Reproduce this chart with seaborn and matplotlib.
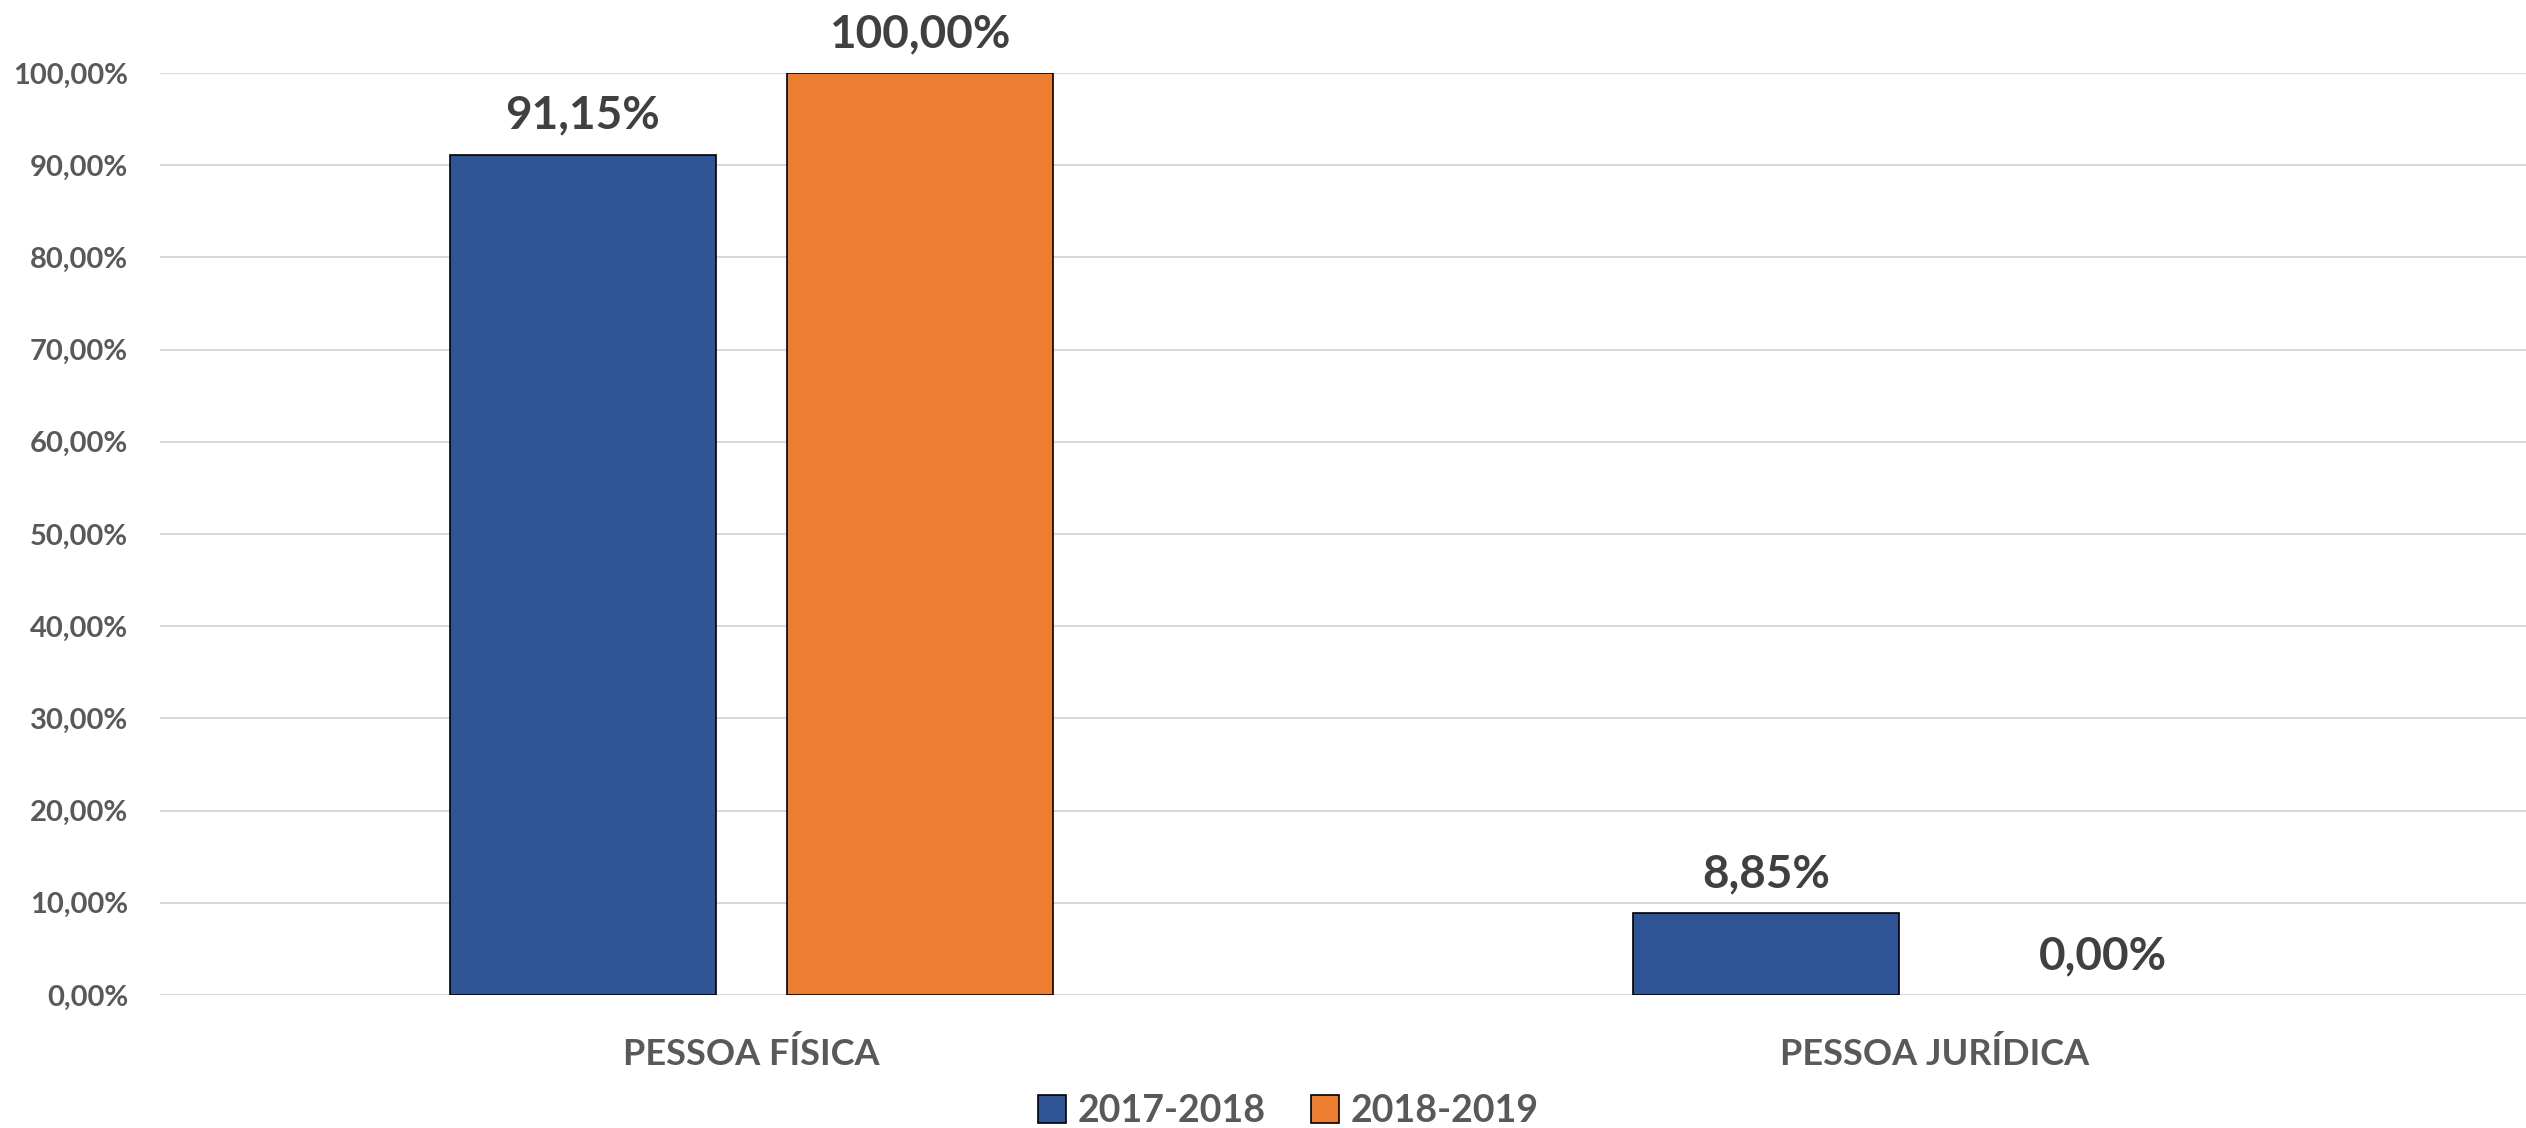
import matplotlib
matplotlib.use("Agg")
import matplotlib.pyplot as plt
import seaborn as sns
import pandas as pd
from matplotlib.ticker import FuncFormatter, MultipleLocator
from matplotlib.patches import Patch

categories = ["PESSOA FÍSICA", "PESSOA JURÍDICA"]
series_names = ["2017-2018", "2018-2019"]
values_2017_2018 = [91.15, 8.85]
values_2018_2019 = [100.00, 0.00]
colors = ["#2F5597", "#ED7D31"]

rows = []
for c, v in zip(categories, values_2017_2018):
    rows.append({"cat": c, "serie": series_names[0], "val": v})
for c, v in zip(categories, values_2018_2019):
    rows.append({"cat": c, "serie": series_names[1], "val": v})
df = pd.DataFrame(rows)

sns.set_theme(style="white")
plt.rcParams['font.family'] = ['Lato', 'DejaVu Sans']

fig = plt.figure(figsize=(25.26, 11.28), dpi=100)
ax = fig.add_axes([160/2526, 1-995/1128, 1-160/2526, (995-73)/1128])

sns.barplot(data=df, x="cat", y="val", hue="serie", palette=colors, ax=ax,
            width=0.57, gap=0.21, edgecolor="black", linewidth=1.2,
            saturation=1, legend=False)

ax.set_ylim(0, 100)
ax.set_xlim(-0.5, 1.5)
ax.yaxis.set_major_locator(MultipleLocator(10))
ax.yaxis.set_major_formatter(FuncFormatter(lambda v, p: f"{v:.2f}%".replace(".", ",")))
ax.grid(axis="y", color="#D9D9D9", linewidth=1.5)
ax.set_axisbelow(True)
for s in ax.spines.values():
    s.set_visible(False)
ax.set_xlabel("")
ax.set_ylabel("")
ax.tick_params(axis="y", length=0, pad=23, labelsize=21, labelcolor="#595959")
ax.tick_params(axis="x", length=0, pad=30, labelsize=26, labelcolor="#595959")
for t in ax.get_yticklabels() + ax.get_xticklabels():
    t.set_fontweight("bold")

for cont in ax.containers:
    for b in cont:
        if b.get_height() == 0:
            b.set_linewidth(0)
    labels = [f"{b.get_height():.2f}%".replace(".", ",") for b in cont]
    ax.bar_label(cont, labels=labels, padding=13, fontsize=33, fontweight="bold",
                 color="#404040", clip_on=False)

handles = [Patch(facecolor=colors[i], edgecolor="black", linewidth=1.2, label=series_names[i])
           for i in range(2)]
leg = fig.legend(handles=handles, loc="lower center", bbox_to_anchor=(0.51, -0.03), ncol=2,
                 frameon=False, prop={"size": 27, "weight": "bold"},
                 handlelength=0.75, handleheight=0.75, handletextpad=0.3, columnspacing=1.2)
for t in leg.get_texts():
    t.set_color("#595959")

fig.savefig("out.png", dpi=100, facecolor="white")
